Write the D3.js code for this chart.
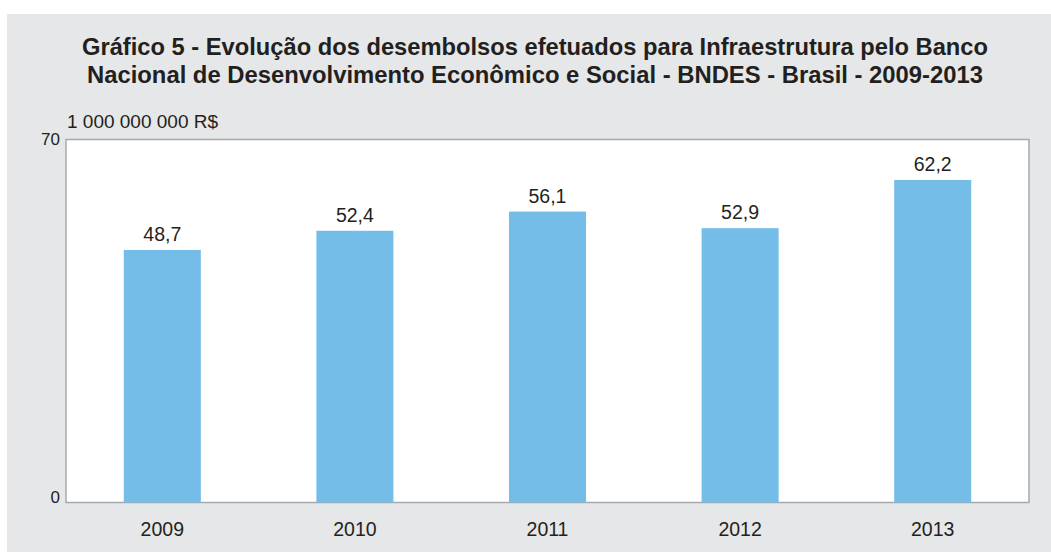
<!DOCTYPE html>
<html>
<head>
<meta charset="utf-8">
<script src="https://cdn.jsdelivr.net/npm/d3@7"></script>
<style>
  html, body { margin: 0; padding: 0; background: #ffffff; }
  svg { display: block; }
  text { font-family: "Liberation Sans", Arial, sans-serif; fill: #231f20; }
</style>
</head>
<body>
<svg id="chart" width="1051" height="552"></svg>
<script>
const categories = ["2009", "2010", "2011", "2012", "2013"];
const values = [48.7, 52.4, 56.1, 52.9, 62.2];
const valueLabels = ["48,7", "52,4", "56,1", "52,9", "62,2"];
const yTicks = [0, 70];
const titleLines = [
  "Gráfico 5 - Evolução dos desembolsos efetuados para Infraestrutura pelo Banco",
  "Nacional de Desenvolvimento Econômico e Social - BNDES - Brasil - 2009-2013"
];
const unitLabel = "1 000 000 000 R$";

const W = 1051, H = 552;
const plot = { left: 66, top: 139.5, right: 1029, bottom: 502.5 };

const svg = d3.select("#chart");

// panel background
svg.append("rect").attr("x", 7).attr("y", 14).attr("width", W - 7).attr("height", H - 14)
  .attr("fill", "#e6e7e8");

// title
const title = svg.append("g");
titleLines.forEach((t, i) => {
  title.append("text")
    .attr("x", 535).attr("y", 55 + i * 28)
    .attr("text-anchor", "middle")
    .attr("font-size", 24).attr("font-weight", "bold")
    .attr("textLength", i === 0 ? 906 : 896)
    .attr("lengthAdjust", "spacingAndGlyphs")
    .text(t);
});

// unit label
svg.append("text").attr("x", 67).attr("y", 128)
  .attr("font-size", 18)
  .attr("textLength", 151).attr("lengthAdjust", "spacingAndGlyphs")
  .text(unitLabel);

const x = d3.scaleBand().domain(categories).range([plot.left, plot.right]).paddingInner(0.6).paddingOuter(0.3);
const y = d3.scaleLinear().domain([0, 70]).range([plot.bottom, plot.top]);

// plot area
svg.append("rect")
  .attr("x", plot.left).attr("y", plot.top)
  .attr("width", plot.right - plot.left).attr("height", plot.bottom - plot.top)
  .attr("fill", "#ffffff").attr("stroke", "#a7a9ac").attr("stroke-width", 1.5);

// bars
svg.append("g").selectAll("rect").data(values).join("rect")
  .attr("x", (d, i) => x(categories[i]))
  .attr("y", d => y(d))
  .attr("width", x.bandwidth())
  .attr("height", d => y(0) - y(d))
  .attr("fill", "#74bde8");

// value labels
svg.append("g").selectAll("text").data(values).join("text")
  .attr("x", (d, i) => x(categories[i]) + x.bandwidth() / 2)
  .attr("y", d => y(d) - 9)
  .attr("text-anchor", "middle")
  .attr("font-size", 19.5)
  .text((d, i) => valueLabels[i]);

// y axis
const yAxis = svg.append("g").attr("transform", `translate(${plot.left},0)`)
  .call(d3.axisLeft(y).tickValues(yTicks).tickSize(0).tickPadding(6).tickFormat(d3.format("d")));
yAxis.select(".domain").remove();
yAxis.selectAll("text")
  .attr("font-size", 17).attr("fill", "#231f20")
  .attr("font-family", "Liberation Sans, Arial, sans-serif")
  .attr("dy", d => d === 0 ? "0" : "0.32em");

// x axis
const xAxis = svg.append("g").attr("transform", `translate(0,${plot.bottom})`)
  .call(d3.axisBottom(x).tickSize(0).tickPadding(20));
xAxis.select(".domain").remove();
xAxis.selectAll("text")
  .attr("font-size", 19.5).attr("fill", "#231f20")
  .attr("font-family", "Liberation Sans, Arial, sans-serif");
</script>
</body>
</html>
